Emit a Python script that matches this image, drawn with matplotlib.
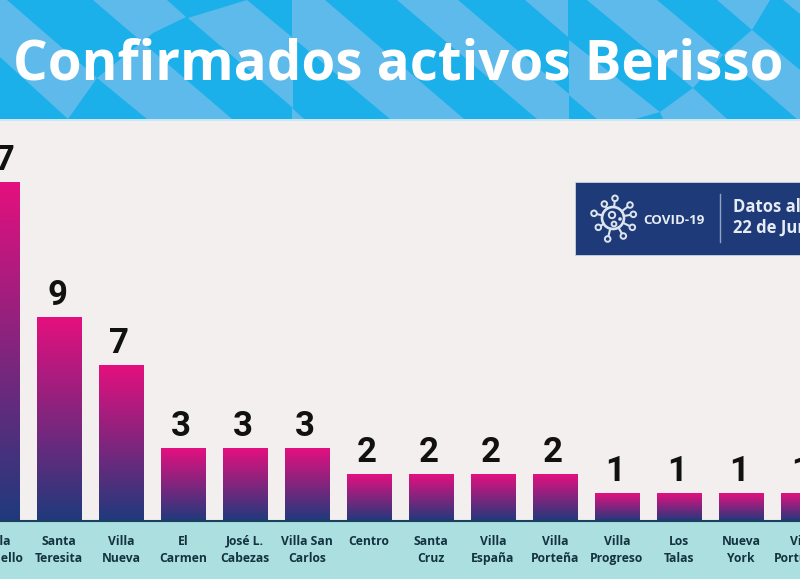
import matplotlib
matplotlib.use('Agg')
import matplotlib.pyplot as plt
from matplotlib.patches import Polygon, Rectangle, Circle
from matplotlib.colors import LinearSegmentedColormap
import numpy as np

barrios = ['Villa\nArgüello', 'Santa\nTeresita', 'Villa\nNueva', 'El\nCarmen', 'José L.\nCabezas',
           'Villa San\nCarlos', 'Centro\n', 'Santa\nCruz', 'Villa\nEspaña', 'Villa\nPorteña',
           'Villa\nProgreso', 'Los\nTalas', 'Nueva\nYork', 'Villa\nPortuaria']
casos = [17, 9, 7, 3, 3, 3, 2, 2, 2, 2, 1, 1, 1, 1]
# the bars in the picture are not to scale, so the drawn height is read off separately
alturas = [16.95, 10.2, 7.8, 3.65, 3.65, 3.65, 2.35, 2.35, 2.35, 2.35, 1.4, 1.4, 1.4, 1.4]

W, H = 800, 579
FONT = 'Open Sans'
gradient = LinearSegmentedColormap.from_list('bar', ['#1F3A7C', '#E4107F'])

fig = plt.figure(figsize=(W / 100, H / 100), dpi=100, facecolor='#F3EFEF')

# background layer in pixel coordinates
bg = fig.add_axes([0, 0, 1, 1])
bg.set_xlim(0, W)
bg.set_ylim(H, 0)
bg.axis('off')

bg.add_patch(Rectangle((0, 0), W, 119, color='#1CB0EA', lw=0))
bg.add_patch(Rectangle((0, 119), W, 2, color='#CBE8F3', lw=0))
bg.add_patch(Rectangle((0, 521), W, 58, color='#ABDFE0', lw=0))

light_shapes = [
    [(0, 0), (7, 0), (97, 78), (68, 119), (0, 57)],
    [(93, 0), (167, 0), (186, 17), (153, 33), (142, 42)],
    [(97, 78), (142, 42), (232, 119), (147, 119)],
    [(188, 18), (247, 0), (293, 38), (293, 108)],
    [(292, 108), (304, 119), (292, 119)],
    [(292, 0), (325, 0), (464, 119), (390, 119), (292, 37)],
    [(397, 0), (458, 0), (569, 94), (569, 119), (537, 119)],
    [(525, 0), (568, 0), (568, 37)],
    [(587, 0), (657, 0), (723, 55), (693, 88)],
    [(717, 0), (770, 0), (752, 30)],
    [(752, 30), (800, 70), (800, 119), (797, 119), (723, 55)],
    [(660, 112), (693, 88), (727, 119), (663, 119)],
    [(569, 40), (660, 112), (635, 119), (597, 119), (569, 95)],
    [(783, 0), (800, 0), (800, 14)],
]
for shape in light_shapes:
    bg.add_patch(Polygon(shape, closed=True, color='#5EBAEA', lw=0))

bg.text(398.5, 80, 'Confirmados activos Berisso', color='white', fontsize=39.3, fontweight='bold',
        family=FONT, ha='center', va='baseline')

# covid box
bg.add_patch(Rectangle((575, 182), 235, 73, fc='#1E3A78', ec='#C8D4E4', lw=0.6))
bg.plot([720, 720], [194, 242], color='#8FA3C4', lw=1)
cx, cy = 613, 218
nodes = [(135, 70), (180, 90), (190, 118), (187, 157), (160, 183), (113, 192), (85, 157), (72, 115), (103, 87)]
for nx, ny in nodes:
    px, py = nx / 3 + 570, ny / 3 + 175
    d = np.hypot(px - cx, py - cy)
    bg.plot([cx + (px - cx) * 11 / d, px], [cy + (py - cy) * 11 / d, py], color='#DCE4EF', lw=1.5)
    bg.add_patch(Circle((px, py), 2.8, fc='#1E3A78', ec='#DCE4EF', lw=1.4, zorder=3))
bg.add_patch(Circle((cx, cy), 11, fc='none', ec='#DCE4EF', lw=1.9))
bg.add_patch(Circle((612, 215), 3.2, fc='none', ec='#DCE4EF', lw=1.4))
bg.add_patch(Circle((614, 224), 2.4, fc='none', ec='#DCE4EF', lw=1.4))
bg.add_patch(Circle((620, 219), 1.8, fc='#DCE4EF', ec='none'))
bg.text(643, 220, 'COVID-19', color='#E6ECF4', fontsize=9.6, fontweight='bold', family=FONT, va='center')
bg.text(733, 207, 'Datos al', color='#E6ECF4', fontsize=12, fontweight='bold', family=FONT, va='center')
bg.text(733, 228, '22 de Junio', color='#E6ECF4', fontsize=12, fontweight='bold', family=FONT, va='center')

# bars, one category step is 62 px and the first bar centre sits at -3 px
# the axes run past the figure so the cut off first and last bars keep their labels
margin = 40
ax = fig.add_axes([-margin / W, (H - 521) / H, (W + 2 * margin) / W, 401 / H])
ax.patch.set_alpha(0)
x = np.arange(len(barrios))
bars = ax.bar(x, alturas, width=0.71, color='none', lw=0)
ramp = np.linspace(0, 1, 256).reshape(-1, 1)
for rect in bars:
    im = ax.imshow(ramp, cmap=gradient, origin='lower', aspect='auto', interpolation='bilinear',
                   extent=[rect.get_x(), rect.get_x() + rect.get_width(), 0, rect.get_height()])
    im.set_clip_path(rect)
for xi, h, n in zip(x, alturas, casos):
    ax.annotate(str(n), (xi, h), xytext=(-1.4, 3.5), textcoords='offset points', ha='center', va='bottom',
                fontsize=25, fontweight='bold', family='Roboto', color='#111111')

ax.set_yticks([])
ax.set_xticks(x)
ax.set_xticklabels(barrios, fontsize=8.7, fontweight='bold', family=FONT, color='#14333F', linespacing=1.4)
# set after the ticks, set_xticks widens the view otherwise
ax.set_xlim((3 - margin) / 62, (803 + margin) / 62)
ax.set_ylim(0, 20.05)
ax.tick_params(axis='x', length=0, pad=10)
for side in ['top', 'left', 'right']:
    ax.spines[side].set_visible(False)
ax.spines['bottom'].set_color('#1B3F5E')
ax.spines['bottom'].set_linewidth(1.5)

fig.savefig('out.png', dpi=100, facecolor=fig.get_facecolor())
